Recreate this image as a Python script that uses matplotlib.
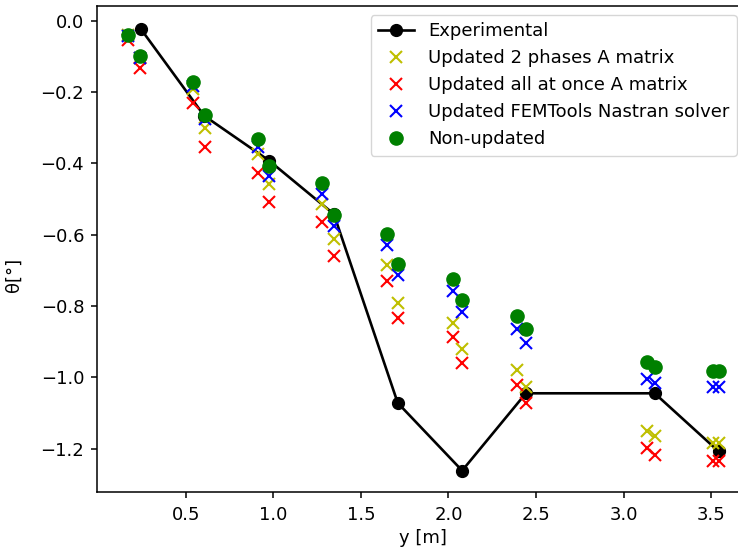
import matplotlib
matplotlib.use("Agg")
import matplotlib.pyplot as plt

# Experimental data
y_exp = [0.243, 0.604, 0.975, 1.345, 1.71, 2.078, 2.442, 3.178, 3.543]
theta_exp = [-0.023, -0.266, -0.392, -0.542, -1.072, -1.262, -1.045, -1.045, -1.208]

# Simulation stations
y_sim = [0.168, 0.24, 0.538, 0.608, 0.909, 0.975, 1.279, 1.345, 1.65, 1.71,
         2.024, 2.077, 2.394, 2.442, 3.135, 3.178, 3.512, 3.546]

theta_2phases = [-0.040, -0.103, -0.192, -0.299, -0.374, -0.458, -0.514, -0.612,
                 -0.685, -0.792, -0.848, -0.922, -0.979, -1.028, -1.152, -1.166,
                 -1.184, -1.184]
theta_allonce = [-0.054, -0.131, -0.229, -0.355, -0.428, -0.509, -0.563, -0.659,
                 -0.731, -0.834, -0.888, -0.961, -1.021, -1.072, -1.199, -1.217,
                 -1.235, -1.235]
theta_femtools = [-0.042, -0.105, -0.182, -0.276, -0.355, -0.435, -0.486, -0.575,
                  -0.629, -0.713, -0.757, -0.818, -0.864, -0.904, -1.005, -1.016,
                  -1.028, -1.028]
theta_nonupd = [-0.040, -0.098, -0.170, -0.264, -0.330, -0.408, -0.456, -0.545,
                -0.598, -0.682, -0.724, -0.783, -0.827, -0.864, -0.958, -0.970,
                -0.981, -0.981]

labels = ["Experimental", "Updated 2 phases A matrix", "Updated all at once A matrix",
          "Updated FEMTools Nastran solver", "Non-updated"]

plt.rcParams['font.family'] = ['DejaVu Sans']
plt.rcParams['font.size'] = 13

fig = plt.figure(figsize=(7.38, 5.56), dpi=100)
ax = fig.add_axes([96.7 / 738, 64 / 556, (749 - 96.7) / 738, (492 - 6) / 556])

ax.plot(y_exp, theta_exp, 'k-o', lw=1.9, ms=8.5, label=labels[0])
ax.plot(y_sim, theta_2phases, 'yx', ms=8, mew=1.5, ls='none', label=labels[1])
ax.plot(y_sim, theta_allonce, 'rx', ms=8, mew=1.5, ls='none', label=labels[2])
ax.plot(y_sim, theta_femtools, 'bx', ms=8, mew=1.5, ls='none', label=labels[3])
ax.plot(y_sim, theta_nonupd, 'go', ms=9.5, ls='none', label=labels[4])

ax.set_xlim(-0.01, 3.717)
ax.set_ylim(-1.322, 0.042)
ax.set_xticks([0.5, 1.0, 1.5, 2.0, 2.5, 3.0, 3.5])
ax.set_xlabel("y [m]", labelpad=4)
ax.set_ylabel("θ[°]")
ax.yaxis.set_label_coords(-0.113, 0.4465)
for s in ax.spines.values():
    s.set_linewidth(1.1)
ax.tick_params(width=1.1, length=4.5)
ax.tick_params(axis='x', pad=5.5)
ax.tick_params(axis='y', pad=4.5)
ax.legend(loc='upper right', bbox_to_anchor=(0.9954, 1.0))

fig.savefig("out.png", dpi=100)
